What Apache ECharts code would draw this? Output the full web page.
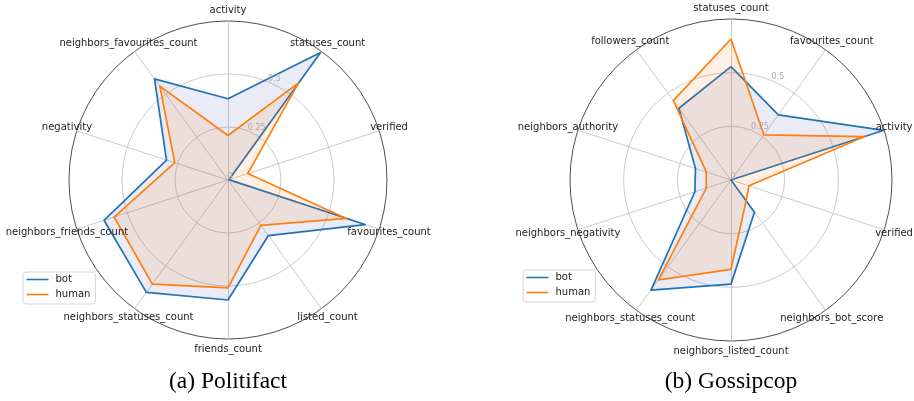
<!DOCTYPE html>
<html>
<head>
<meta charset="utf-8">
<script src="https://cdn.jsdelivr.net/npm/echarts@6/dist/echarts.min.js"></script>
<style>
html,body{margin:0;padding:0;background:#fff;}
#chart{width:914px;height:401px;}
</style>
</head>
<body>
<div id="chart"></div>
<script>
// ---- data (clockwise from top) ----
var politifactCategories = ['activity','statuses_count','verified','favourites_count','listed_count','friends_count','neighbors_statuses_count','neighbors_friends_count','negativity','neighbors_favourites_count'];
var politifactBot   = [0.383, 0.743, 0.005, 0.680, 0.324, 0.566, 0.655, 0.615, 0.305, 0.590];
var politifactHuman = [0.210, 0.566, 0.098, 0.587, 0.264, 0.509, 0.607, 0.565, 0.264, 0.547];

var gossipcopCategories = ['statuses_count','favourites_count','activity','verified','neighbors_bot_score','neighbors_listed_count','neighbors_statuses_count','neighbors_negativity','neighbors_authority','followers_count'];
var gossipcopBot   = [0.528, 0.375, 0.749, 0.000, 0.186, 0.485, 0.634, 0.177, 0.174, 0.413];
var gossipcopHuman = [0.657, 0.260, 0.655, 0.088, 0.120, 0.416, 0.575, 0.121, 0.121, 0.457];

var radialTicks = [0, 0.25, 0.5];
var radialTickLabels = ['0', '0.25', '0.5'];
var seriesNames = ['bot', 'human'];
var captions = ['(a) Politifact', '(b) Gossipcop'];

// ---- styling / layout ----
var RMAX = 0.75;
var BLUE = '#1f77b4', ORANGE = '#ff7f0e';
var panels = [
  {cats: politifactCategories, bot: politifactBot, human: politifactHuman, center: [228, 180], radius: 159, legend: [23, 272], caption: captions[0]},
  {cats: gossipcopCategories, bot: gossipcopBot, human: gossipcopHuman, center: [731, 180], radius: 161, legend: [523, 270], caption: captions[1]}
];

// ECharts radar lays indicators out counter-clockwise; reorder so they read clockwise
function ccw(arr){ return [arr[0]].concat(arr.slice(1).reverse()); }

var option = {
  animation: false,
  backgroundColor: '#ffffff',
  title: [], radar: [], polar: [], angleAxis: [], radiusAxis: [], legend: [], series: []
};

panels.forEach(function(p, k){
  var n = p.cats.length;
  option.radar.push({
    center: p.center, radius: p.radius, startAngle: 90, shape: 'circle', splitNumber: 3,
    indicator: ccw(p.cats).map(function(c){ return {name: c, min: 0, max: RMAX}; }),
    axisName: {show: false},
    axisLabel: {show: false},
    axisTick: {show: false},
    axisLine: {show: true, lineStyle: {color: '#c4c4c4', width: 0.9}},
    splitLine: {show: true, lineStyle: {color: ['#c4c4c4', '#c4c4c4', '#c4c4c4', '#3a3a3a'], width: 0.9}},
    splitArea: {show: false}
  });
  option.polar.push({center: p.center, radius: p.radius});
  option.angleAxis.push({polarIndex: k, type: 'value', min: 0, max: 360, startAngle: 90, clockwise: true,
    axisLine: {show: false}, axisTick: {show: false}, axisLabel: {show: false}, splitLine: {show: false}, splitArea: {show: false}});
  option.radiusAxis.push({polarIndex: k, type: 'value', min: 0, max: RMAX,
    axisLine: {show: false}, axisTick: {show: false}, axisLabel: {show: false}, splitLine: {show: false}, splitArea: {show: false}});

  option.series.push({
    type: 'radar', radarIndex: k, symbol: 'none', silent: true,
    data: [
      {name: seriesNames[0], value: ccw(p.bot),
        itemStyle: {color: BLUE}, lineStyle: {color: BLUE, width: 1.7},
        areaStyle: {color: 'rgba(60,70,170,0.15)'}},
      {name: seriesNames[1], value: ccw(p.human),
        itemStyle: {color: ORANGE}, lineStyle: {color: ORANGE, width: 1.7},
        areaStyle: {color: 'rgba(255,127,14,0.17)'}}
    ]
  });

  // category names around the circle (centred, like matplotlib)
  option.series.push({
    type: 'scatter', coordinateSystem: 'polar', polarIndex: k, silent: true, clip: false,
    symbol: 'circle', symbolSize: 1, itemStyle: {color: 'rgba(0,0,0,0)'},
    label: {show: true, opacity: 1, position: 'inside', offset: [0, 1.5], formatter: '{b}', color: '#222', fontSize: 10, fontFamily: 'DejaVu Sans'},
    labelLayout: {hideOverlap: false},
    data: p.cats.map(function(c, i){ return {name: c, value: [RMAX * 1.065, i * 360 / n]}; })
  });

  // radial tick labels at 22.5 deg
  option.series.push({
    type: 'scatter', coordinateSystem: 'polar', polarIndex: k, silent: true, clip: false,
    symbol: 'circle', symbolSize: 1, itemStyle: {color: 'rgba(0,0,0,0)'},
    label: {show: true, opacity: 1, position: 'insideBottomLeft', distance: 0, formatter: '{b}', color: '#ababab', fontSize: 8, fontFamily: 'DejaVu Sans'},
    data: radialTicks.map(function(v, i){ return {name: radialTickLabels[i], value: [v, 22.5]}; })
  });

  option.legend.push({
    left: p.legend[0], top: p.legend[1], orient: 'vertical',
    data: seriesNames.map(function(s, i){ return {name: s, itemStyle: {color: i ? ORANGE : BLUE}}; }),
    icon: 'rect', itemWidth: 22, itemHeight: 1.6, itemGap: 3,
    padding: [1.5, 5, 3.5, 3.5],
    backgroundColor: 'rgba(255,255,255,0.85)', borderColor: '#d6d6d6', borderWidth: 1, borderRadius: 3,
    textStyle: {fontSize: 10, fontFamily: 'DejaVu Sans', color: '#222', lineHeight: 12, padding: [0, 0, 0, 2]},
    selectedMode: false
  });

  option.title.push({
    text: p.caption, left: p.center[0], top: 370, textAlign: 'center', padding: 0,
    textStyle: {fontFamily: 'Liberation Serif', fontSize: 23.5, fontWeight: 'normal', color: '#000'}
  });
});

var chart = echarts.init(document.getElementById('chart'), null, {renderer: 'canvas'});
chart.setOption(option);
</script>
</body>
</html>
